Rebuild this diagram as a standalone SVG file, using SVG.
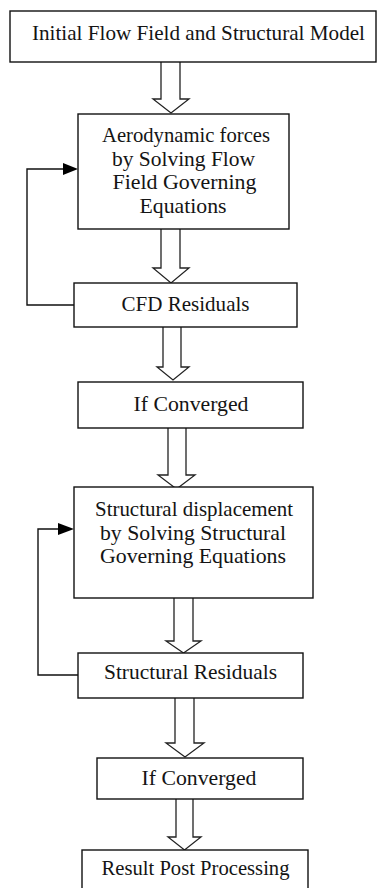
<svg xmlns="http://www.w3.org/2000/svg" width="377" height="888" viewBox="0 0 377 888">
<style>
.box{fill:#fff;stroke:#111;stroke-width:1.4}
.t{font-family:"Liberation Serif","Times New Roman",serif;font-size:21px;fill:#141414;text-anchor:middle}
.arr{fill:#fff;stroke:#222;stroke-width:1.3;stroke-linejoin:miter}
.ln{fill:none;stroke:#111;stroke-width:1.4}
.hd{fill:#000}
</style>
<rect width="377" height="888" fill="#fff"/>
<g id="connectors">
<path class="arr" d="M161 62 V99 H153 L171 113 L189 99 H180 V62"/>
<path class="arr" d="M161 229 V268 H153 L171 283 L189 268 H180 V229"/>
<path class="arr" d="M163 327 V367 H157 L173 380 L189 367 H181 V327"/>
<path class="arr" d="M168 428 V475 H158 L176.5 489 L195 475 H186 V428"/>
<path class="arr" d="M174 598 V641 H166 L183.5 653 L201 641 H193 V598"/>
<path class="arr" d="M175 698 V743 H166 L185 757 L204 743 H194 V698"/>
<path class="arr" d="M176 799 V837 H168 L184.5 850 L201 837 H193 V799"/>
<path class="ln" d="M74 305 H27 V169 H66"/>
<polygon class="hd" points="63,163 78,169 63,175"/>
<path class="ln" d="M78 675 H38 V529 H60"/>
<polygon class="hd" points="58,523 74,529 58,535"/>
</g>
<g id="n1"><rect class="box" x="10" y="11" width="366" height="51"/>
<text class="t" x="198.5" y="40" textLength="333" lengthAdjust="spacingAndGlyphs">Initial Flow Field and Structural Model</text></g>
<g id="n2"><rect class="box" x="78" y="114" width="211" height="115"/>
<text class="t" x="186" y="142" textLength="168" lengthAdjust="spacingAndGlyphs">Aerodynamic forces</text>
<text class="t" x="183.5" y="165.5" textLength="143" lengthAdjust="spacingAndGlyphs">by Solving Flow</text>
<text class="t" x="184.5" y="189" textLength="144" lengthAdjust="spacingAndGlyphs">Field Governing</text>
<text class="t" x="183" y="212.5" textLength="87" lengthAdjust="spacingAndGlyphs">Equations</text></g>
<g id="n3"><rect class="box" x="74" y="283" width="223" height="44"/>
<text class="t" x="185.5" y="311" textLength="128" lengthAdjust="spacingAndGlyphs">CFD Residuals</text></g>
<g id="n4"><rect class="box" x="78" y="382" width="225" height="46"/>
<text class="t" x="191" y="411" textLength="115" lengthAdjust="spacingAndGlyphs">If Converged</text></g>
<g id="n5"><rect class="box" x="74" y="487" width="239" height="111"/>
<text class="t" x="194" y="516" textLength="198" lengthAdjust="spacingAndGlyphs">Structural displacement</text>
<text class="t" x="193" y="539.5" textLength="186" lengthAdjust="spacingAndGlyphs">by Solving Structural</text>
<text class="t" x="193" y="563" textLength="186" lengthAdjust="spacingAndGlyphs">Governing Equations</text></g>
<g id="n6"><rect class="box" x="78" y="653" width="225" height="45"/>
<text class="t" x="190.5" y="679" textLength="173" lengthAdjust="spacingAndGlyphs">Structural Residuals</text></g>
<g id="n7"><rect class="box" x="97" y="758" width="206" height="41"/>
<text class="t" x="199" y="785" textLength="115" lengthAdjust="spacingAndGlyphs">If Converged</text></g>
<g id="n8"><rect class="box" x="82" y="850" width="226" height="45"/>
<text class="t" x="195.5" y="875" textLength="188" lengthAdjust="spacingAndGlyphs">Result Post Processing</text></g>
</svg>
